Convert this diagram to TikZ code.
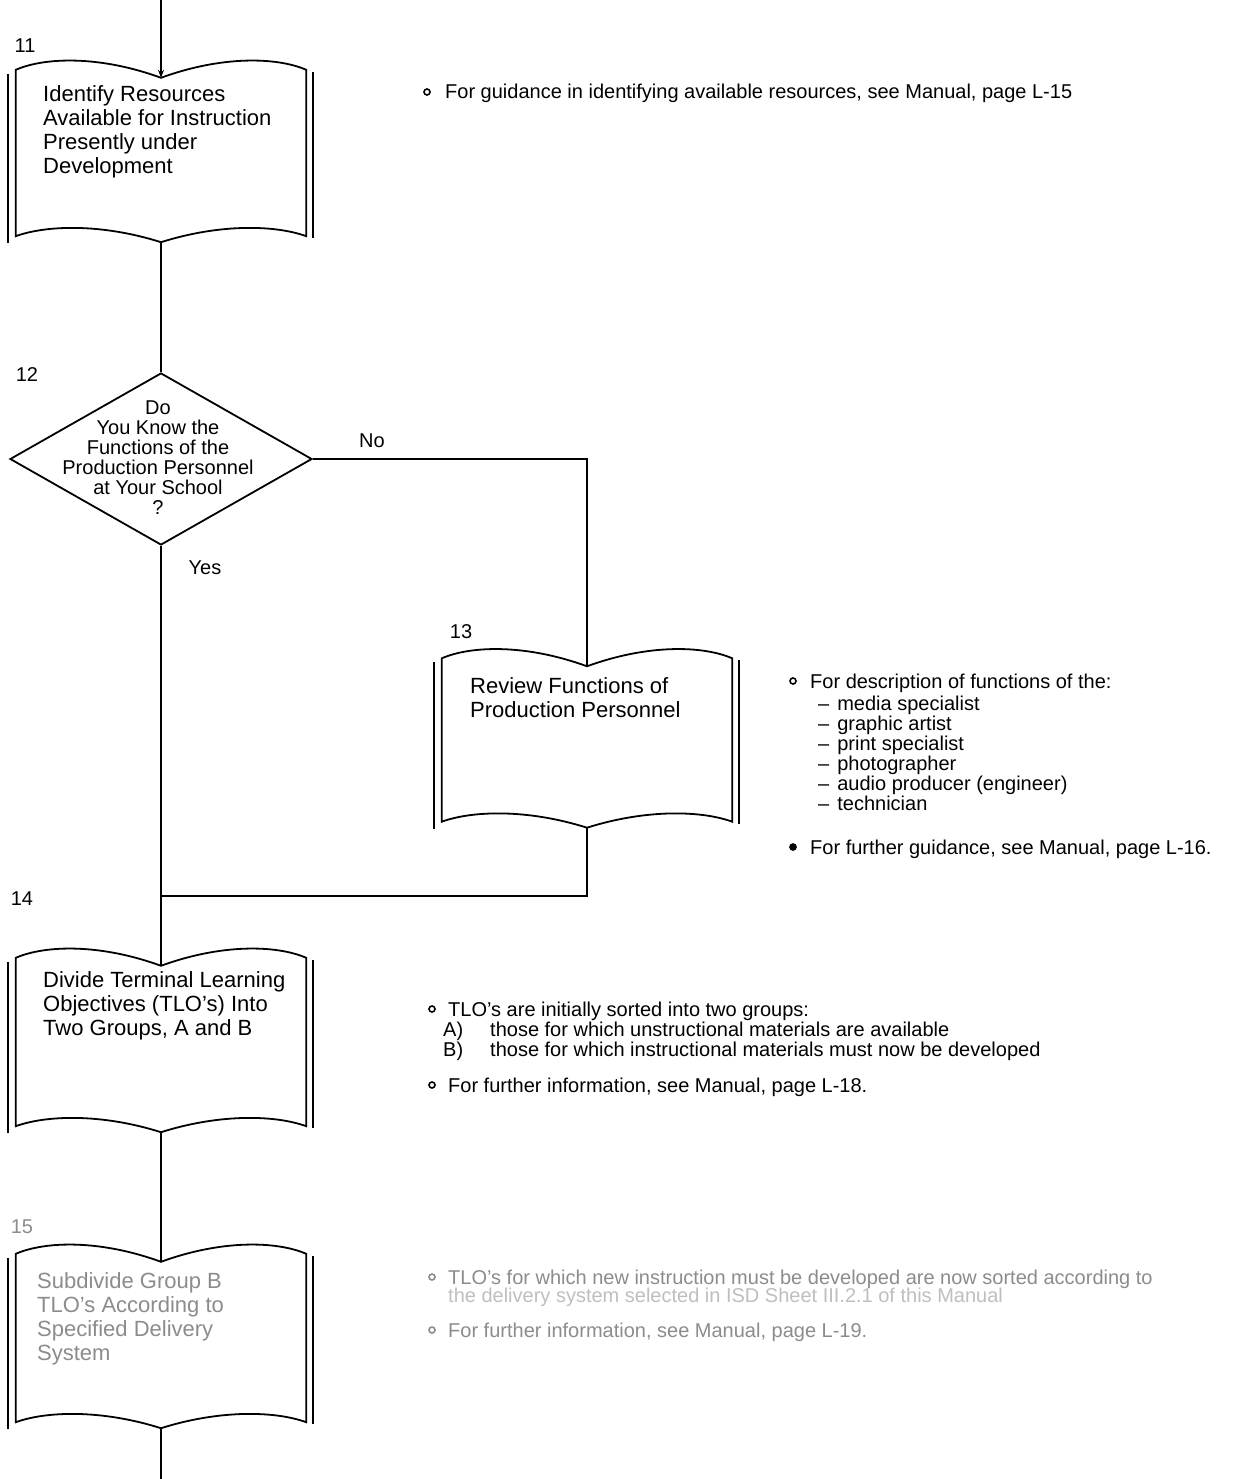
\documentclass[tikz,border=0pt]{standalone}
\usepackage{fontspec}
\setmainfont{Liberation Sans}
\usetikzlibrary{shapes.geometric,calc,arrows.meta}
\newcommand\drawbook[1]{%
  \draw[bookline] (#1.north west)
    .. controls ($(#1.north west)+(30,-13)$) and ($(#1.north)+(-60,-14)$) .. ($(#1.north)+(0,8)$)
    .. controls ($(#1.north)+(60,-14)$) and ($(#1.north east)+(-30,-13)$) .. (#1.north east)
    -- (#1.south east)
    .. controls ($(#1.south east)+(-30,-11)$) and ($(#1.south)+(60,-13)$) .. ($(#1.south)+(0,6)$)
    .. controls ($(#1.south)+(-60,-13)$) and ($(#1.south west)+(30,-11)$) .. (#1.south west)
    -- cycle;
  \draw[bookline] ($(#1.north west)+(-8,4)$) -- ($(#1.south west)+(-8,7)$);
  \draw[bookline] ($(#1.north east)+(7,2)$) -- ($(#1.south east)+(7,2)$);
  \coordinate (#1-in) at ($(#1.north)+(0,8)$);
  \coordinate (#1-out) at ($(#1.south)+(0,6)$);
}
\begin{document}
\begin{tikzpicture}[x=1pt,y=-1pt,
  bookbox/.style={rectangle,inner sep=0pt,minimum width=290pt},
  bookline/.style={line width=1.8pt},
  flow/.style={line width=2.2pt},
  booktext/.style={anchor=north west,inner sep=0pt,align=left,font=\fontsize{22}{24}\selectfont},
  dtext/.style={inner sep=0pt,align=center,font=\fontsize{20}{20}\selectfont},
  num/.style={inner sep=0pt,font=\fontsize{20}{20}\selectfont},
  note/.style={anchor=base west,inner sep=0pt,font=\fontsize{20}{20}\selectfont},
  bul/.style={circle,draw,line width=1.6pt,inner sep=0pt,minimum size=6pt},
  faded/.style={text=black!45},
  fadedline/.style={draw=black!45}
]
\useasboundingbox[fill=white] (0,0) rectangle (1254,1479);

% ---- step 11
\coordinate (start) at (161,0);
\node[bookbox,minimum height=166pt] (b11) at (161,153) {};
\drawbook{b11}
\node[num] (n11) at (25,46) {11};
\node[booktext] (t11) at (43,85) {Identify Resources\\Available for Instruction\\Presently under\\Development};
\node[bul] (o11) at (427,92) {};
\node[note] (m11) at (445,99) {For guidance in identifying available resources, see Manual, page L-15};

% ---- step 12
\node[diamond,draw,line width=1.8pt,inner sep=0pt,minimum width=302pt,minimum height=172pt] (d12) at (161,459) {};
\node[num] (n12) at (27,375) {12};
\node[dtext] (t12) at (158,458) {Do\\You Know the\\Functions of the\\Production Personnel\\at Your School\\?};
\node[num] (no) at (372,441) {No};
\node[num] (yes) at (205,568) {Yes};

% ---- step 13
\node[bookbox,minimum height=163pt] (b13) at (587,740) {};
\drawbook{b13}
\node[num] (n13) at (461,632) {13};
\node[booktext] (t13) at (470,677) {Review Functions of\\Production Personnel};
\node[bul] (o13a) at (793,681) {};
\node[note] (m13a) at (810,688) {For description of functions of the:};
\node[note] (d1) at (818,710) {–\hspace{8pt}media specialist};
\node[note] (d2) at (818,730) {–\hspace{8pt}graphic artist};
\node[note] (d3) at (818,750) {–\hspace{8pt}print specialist};
\node[note] (d4) at (818,770) {–\hspace{8pt}photographer};
\node[note] (d5) at (818,790) {–\hspace{8pt}audio producer (engineer)};
\node[note] (d6) at (818,810) {–\hspace{8pt}technician};
\node[bul,fill=black] (o13b) at (793,847) {};
\node[note] (m13b) at (810,854) {For further guidance, see Manual, page L-16.};

% ---- step 14
\node[bookbox,minimum height=168pt] (b14) at (161,1042) {};
\drawbook{b14}
\node[num] (n14) at (22,899) {14};
\node[booktext] (t14) at (43,971) {Divide Terminal Learning\\Objectives (TLO's) Into\\Two Groups, A and B};
\node[bul] (o14a) at (432,1009) {};
\node[note] (m14a) at (448,1016) {TLO's are initially sorted into two groups:};
\node[note] (a14) at (443,1036) {A)};
\node[note] (a14t) at (490,1036) {those for which unstructional materials are available};
\node[note] (b14l) at (443,1056) {B)};
\node[note] (b14t) at (490,1056) {those for which instructional materials must now be developed};
\node[bul] (o14b) at (432,1085) {};
\node[note] (m14b) at (448,1092) {For further information, see Manual, page L-18.};

% ---- step 15
\node[bookbox,minimum height=168pt] (b15) at (161,1338) {};
\drawbook{b15}
\node[num,faded] (n15) at (22,1227) {15};
\node[booktext,faded] (t15) at (37,1272) {Subdivide Group B\\TLO's According to\\Specified Delivery\\System};
\node[bul,fadedline] (o15a) at (432,1277) {};
\node[note,faded] (m15a) at (448,1284) {TLO's for which new instruction must be developed are now sorted according to};
\node[note,text=black!25] (m15b) at (448,1302) {the delivery system selected in ISD Sheet III.2.1 of this Manual};
\node[bul,fadedline] (o15b) at (432,1330) {};
\node[note,faded] (m15c) at (448,1337) {For further information, see Manual, page L-19.};
\coordinate (finish) at (161,1479);

% ---- connectors
\draw[flow,-{Stealth[length=8pt,width=6pt]}] (start) -- (b11-in);
\draw[flow] (b11-out) -- (d12.north);
\draw[flow] (d12.east) -- (d12.east -| b13-in) -- (b13-in);
\draw[flow] (d12.south) -- (b14-in);
\coordinate (join) at (161,896);
\draw[flow] (b13-out) |- (join);
\draw[flow] (b14-out) -- (b15-in);
\draw[flow] (b15-out) -- (finish);
\end{tikzpicture}
\end{document}
